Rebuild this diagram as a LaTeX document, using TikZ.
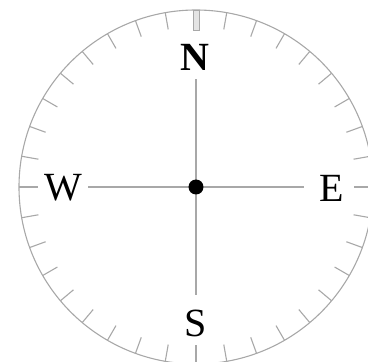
\documentclass[tikz,border=0pt]{standalone}
\usepackage{fontspec}
\setmainfont{Liberation Serif}
\usepackage{tikz}
\usetikzlibrary{calc, backgrounds}
\definecolor{DialGray}{HTML}{A8A8A8}
\definecolor{DialFill}{HTML}{E4E4E4}

\tikzset{
  rim/.style={draw=DialGray, line width=1.1pt},
  tickmark/.style={draw=DialGray, line width=1.1pt},
  spoke/.style={draw=DialGray, line width=1.1pt},
  hubdot/.style={circle, fill=black, inner sep=0pt, minimum size=15pt},
  heading/.style={font=\fontsize{40}{40}\selectfont, inner sep=0pt}
}

\begin{document}
\begin{tikzpicture}[x=1pt, y=1pt]
      \useasboundingbox (0,0) rectangle (368,362);
      %% Dial rim
      \draw[rim] (196,175) circle (177);
      %% Minor ticks every 10 degrees
      \foreach \a in {10,20,...,80,100,110,...,170,190,200,...,260,280,290,...,350}
        \draw[tickmark] ($(196,175)+(\a:177)$) -- ($(196,175)+(\a:160)$);
      %% Cardinal ticks
      \foreach \a in {0,180,270}
        \draw[tickmark] ($(196,175)+(\a:177)$) -- ($(196,175)+(\a:158)$);
      \filldraw[fill=DialFill, draw=DialGray, line width=0.9pt] (193,352) rectangle (199,332);
      %% Hub and spokes
      \node[hubdot] (hub) at (196,175) {};
      \foreach \a/\n in {0/e, 90/n, 180/w, 270/s}
        \coordinate (end\n) at ($(hub)+(\a:108)$);
      \begin{scope}[on background layer]
        \foreach \n in {e, n, w, s}
          \draw[spoke] (hub.center) -- (end\n);
      \end{scope}
      %% Headings
      \node[heading, font=\fontsize{40}{40}\selectfont\bfseries] (lblN) at (195,304.5) {N};
      \node[heading] (lblE) at (332,173.5) {E};
      \node[heading] (lblS) at (196,38.5) {S};
      \node[heading] (lblW) at (63.5,174) {W};
    \end{tikzpicture}
\end{document}
